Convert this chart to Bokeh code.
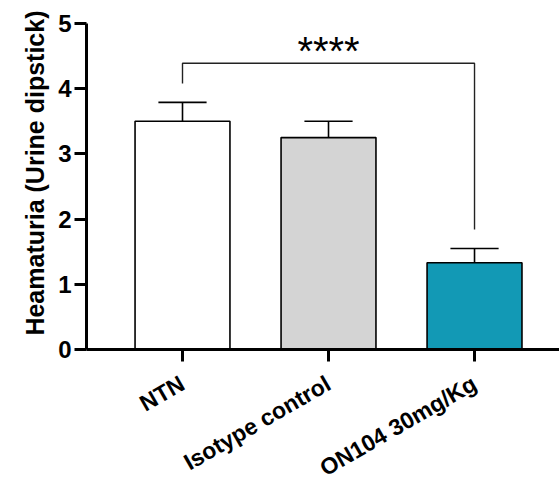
from bokeh.plotting import figure
from bokeh.models import ColumnDataSource, FixedTicker, Range1d, Title
from bokeh.embed import file_html
from bokeh.resources import INLINE
from bokeh.core.properties import value

# ---- data ----
categories = ["NTN", "Isotype control", "ON104 30mg/Kg"]
means = [3.5, 3.25, 1.33]
sem_upper = [0.29, 0.25, 0.22]
bar_colors = ["#ffffff", "#d4d4d4", "#1299b5"]
y_ticks = [0, 1, 2, 3, 4, 5]
bracket_level = 4.39
bracket_left_end = 4.08
bracket_right_end = 1.84
significance = "****"
y_label = "Heamaturia (Urine dipstick)"

xs = list(range(1, len(categories) + 1))
FONT = "Liberation Sans"

p = figure(width=559, height=500, output_backend="svg", toolbar_location=None,
           x_range=Range1d(0.3425, 3.582), y_range=Range1d(0, 5),
           min_border_left=86, min_border_right=0, min_border_top=23,
           min_border_bottom=151)
p.outline_line_color = None
p.xgrid.visible = False
p.ygrid.visible = False
p.background_fill_color = "white"
p.border_fill_color = "white"

src = ColumnDataSource(dict(x=xs, top=means, color=bar_colors,
                            err=[m + s for m, s in zip(means, sem_upper)]))
p.vbar(x="x", top="top", bottom=0, width=0.65, source=src, fill_color="color",
       line_color="black", line_width=1.6)

# error bars (upper only)
p.segment(x0="x", y0="top", x1="x", y1="err", source=src, line_color="black", line_width=1.6)
cap = 0.165
p.segment(x0=[x - cap for x in xs], y0=src.data["err"], x1=[x + cap for x in xs],
          y1=src.data["err"], line_color="black", line_width=1.6)

# significance bracket NTN vs ON104
p.line(x=[xs[0], xs[0], xs[2], xs[2]],
       y=[bracket_left_end, bracket_level, bracket_level, bracket_right_end],
       line_color="#222222", line_width=1.4)
p.text(x=[(xs[0] + xs[2]) / 2], y=[bracket_level], text=[significance],
       text_font=value(FONT), text_font_style="normal", text_font_size="40px",
       text_align="center", text_baseline="alphabetic", text_color="black",
       y_offset=-12)

# axes
for ax in (p.xaxis[0], p.yaxis[0]):
    ax.axis_line_width = 3
    ax.axis_line_color = "black"
    ax.major_tick_line_width = 3
    ax.major_tick_line_color = "black"
    ax.major_tick_out = 12
    ax.major_tick_in = 0
    ax.minor_tick_line_color = None
    ax.major_label_text_font = FONT
    ax.major_label_text_font_style = "bold"
    ax.major_label_text_font_size = "24px"
    ax.major_label_text_color = "black"

p.yaxis.ticker = FixedTicker(ticks=y_ticks)
p.yaxis.major_label_standoff = 3

p.xaxis.ticker = FixedTicker(ticks=xs)
p.xaxis.major_label_overrides = {x: c for x, c in zip(xs, categories)}
p.xaxis.major_label_orientation = 0.5236
p.xaxis.major_label_standoff = 20
p.xaxis.major_label_text_font_size = "23px"

ytitle = Title(text=y_label, align="right", offset=-13, text_font=FONT,
               text_font_style="bold", text_font_size="25px", text_color="black",
               standoff=14)
p.add_layout(ytitle, "left")

open("out.html", "w").write(file_html(p, INLINE))
